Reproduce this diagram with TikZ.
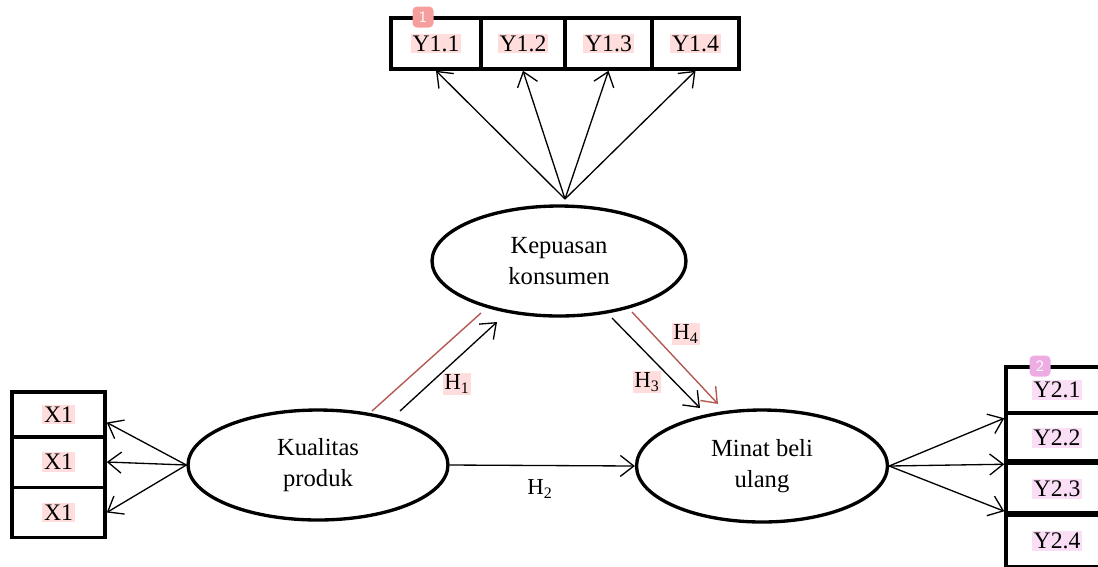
\documentclass[tikz,border=0pt]{standalone}
\usepackage{fontspec}
\setmainfont{Liberation Serif}
\usetikzlibrary{shapes.geometric,arrows.meta}

\definecolor{hred}{RGB}{180,90,84}
\definecolor{hlpink}{RGB}{255,221,221}
\definecolor{hlmag}{RGB}{250,222,245}
\definecolor{tagone}{RGB}{246,158,158}
\definecolor{tagtwo}{RGB}{238,172,228}

\tikzset{
  blob/.style={ellipse, draw, line width=1.9pt, minimum width=5.08cm, minimum height=2.2cm,
    align=center, font=\fontsize{14}{18}\selectfont},
  box/.style={draw, line width=2pt, minimum height=1.02cm},
  hl/.style={fill=hlpink, inner sep=1pt, font=\fontsize{13.5}{16}\selectfont},
  hlm/.style={hl, fill=hlmag},
  hlab/.style={inner sep=1pt, font=\fontsize{13}{16}\selectfont},
  arr/.style={-{Straight Barb[length=2.7mm,width=4.2mm]}, line width=0.75pt},
  tagbox/.style={rounded corners=2.5pt, minimum size=0.42cm, inner sep=0pt, text=white,
    font=\sffamily\small}
}

\begin{document}
\begin{tikzpicture}[x=0.02cm, y=-0.02cm]
  \def\px{0.02cm}
  \useasboundingbox (0,0) rectangle (1098,566);

  % Kepuasan konsumen indicators
  \foreach \n/\x/\w/\lbl in {ya/436/90/Y1.1, yb/523/84/Y1.2, yc/608.5/87/Y1.3, yd/695.5/87/Y1.4} {
    \node[box, minimum width=\w*\px, label={[hl]center:\lbl}] (\n) at (\x,43.5) {};
  }

  % Kualitas produk indicators
  \foreach \n/\y/\h in {xa/414.5/45, xb/462/51, xc/512.5/50} {
    \node[box, minimum width=93*\px, minimum height=\h*\px, label={[hl]center:X1}] (\n) at (58.5,\y) {};
  }

  % Minat beli ulang indicators
  \foreach \n/\y/\h/\lbl in {za/390/46/Y2.1, zb/438/50/Y2.2, zc/489/52/Y2.3, zd/541/52/Y2.4} {
    \node[box, minimum width=102*\px, minimum height=\h*\px, label={[hlm]center:\lbl}] (\n) at (1057,\y) {};
  }
  \draw[line width=2.8pt] (zc.north west) -- (zc.north east);
  \draw[line width=2.8pt] (zd.north west) -- (zd.north east);

  % Constructs
  \node[blob] (kk) at (559,261) {Kepuasan\\konsumen};
  \node[blob, minimum width=5.2cm] (kp) at (318,465) {Kualitas\\produk};
  \node[blob, minimum width=5.02cm, minimum height=2.24cm] (mb) at (762,466) {Minat beli\\ulang};

  % Loadings
  \coordinate (kapex) at (565,199);
  \foreach \n in {ya,yb,yc,yd} {
    \draw[arr] (kapex) -- (\n.south);
  }
  \draw[arr] (kp.west) -- ([yshift=-0.16cm]xa.east);
  \draw[arr] (kp.west) -- (xb.east);
  \draw[arr] (kp.west) -- (xc.east);
  \draw[arr] (mb.east) -- ([yshift=-0.14cm]zb.north west);
  \draw[arr] (mb.east) -- ([yshift=-0.06cm]zc.north west);
  \draw[arr] (mb.east) -- ([yshift=0.04cm]zd.north west);

  % Hypotheses
  \coordinate (h1a) at (400,411);
  \coordinate (h1b) at (497,322);
  \coordinate (r1a) at (372,411);
  \coordinate (r1b) at (481,313);
  \coordinate (h3a) at (612,318);
  \coordinate (h3b) at (700,408);
  \coordinate (h4a) at (632,312);
  \coordinate (h4b) at (718,404);
  \draw[hred, line width=0.8pt] (r1a) -- (r1b);
  \draw[arr] (h1a) -- (h1b);
  \draw[arr] (h3a) -- (h3b);
  \draw[arr, hred, line width=0.8pt] (h4a) -- (h4b);
  \draw[arr] (kp.east) -- (mb.west);

  \node[hlab, fill=hlpink] (h1) at (457,384) {H\textsubscript{1}};
  \node[hlab] (h2) at (540,489) {H\textsubscript{2}};
  \node[hlab, fill=hlpink] (h3) at (647,382) {H\textsubscript{3}};
  \node[hlab, fill=hlpink] (h4) at (686,334) {H\textsubscript{4}};

  % Comment tags
  \node[tagbox, fill=tagone] (t1) at (423,17) {1};
  \node[tagbox, fill=tagtwo] (t2) at (1040,366) {2};
\end{tikzpicture}
\end{document}
